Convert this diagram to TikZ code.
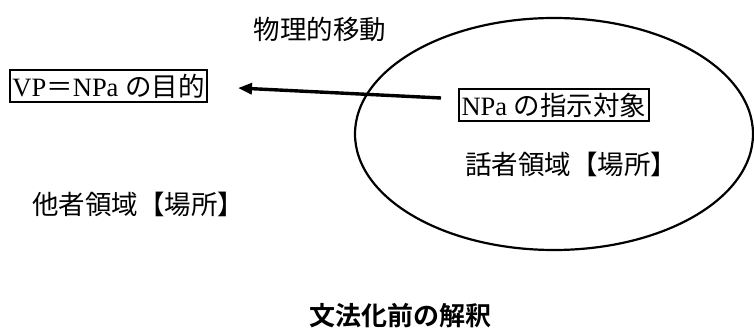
\documentclass[tikz,border=0pt]{standalone}
\usepackage{fontspec}
\setmainfont{Liberation Serif}
\newfontfamily\cjk{Noto Sans CJK JP}
\newfontfamily\cjkb{Noto Sans CJK JP Bold}
\usetikzlibrary{arrows.meta}
\begin{document}
\begin{tikzpicture}[x=1pt,y=-1pt,
  lbl/.style={inner sep=0pt,font=\fontsize{26.5}{28}\selectfont},
  boxed/.style={draw,line width=2pt,inner xsep=2.5pt,inner ysep=4pt,font=\fontsize{26.5}{28}\selectfont},
  mover/.style={line width=3.4pt,-{Triangle[length=14pt,width=11pt]}}]
\useasboundingbox (0,0) rectangle (754,331);
\draw[line width=2.2pt] (554,134) ellipse [x radius=199, y radius=116];
\node[lbl] (phys) at (320,29) {\cjk 物理的移動};
\node[boxed,anchor=west] (goal) at (9,86) {VP{\cjk ＝}NPa {\cjk の目的}};
\node[boxed,anchor=west] (ref) at (458,105) {NPa {\cjk の指示対象}};
\node[lbl] (sp) at (571,164) {\cjk 話者領域【場所】};
\node[lbl] (ot) at (138,204) {\cjk 他者領域【場所】};
\node[inner sep=0pt,font=\fontsize{26}{28}\selectfont] (title) at (400,316) {\cjkb 文法化前の解釈};
\draw[mover] (ref.west) ++(-17,-7) coordinate (s) -- (238,88) coordinate (t);
\end{tikzpicture}
\end{document}
